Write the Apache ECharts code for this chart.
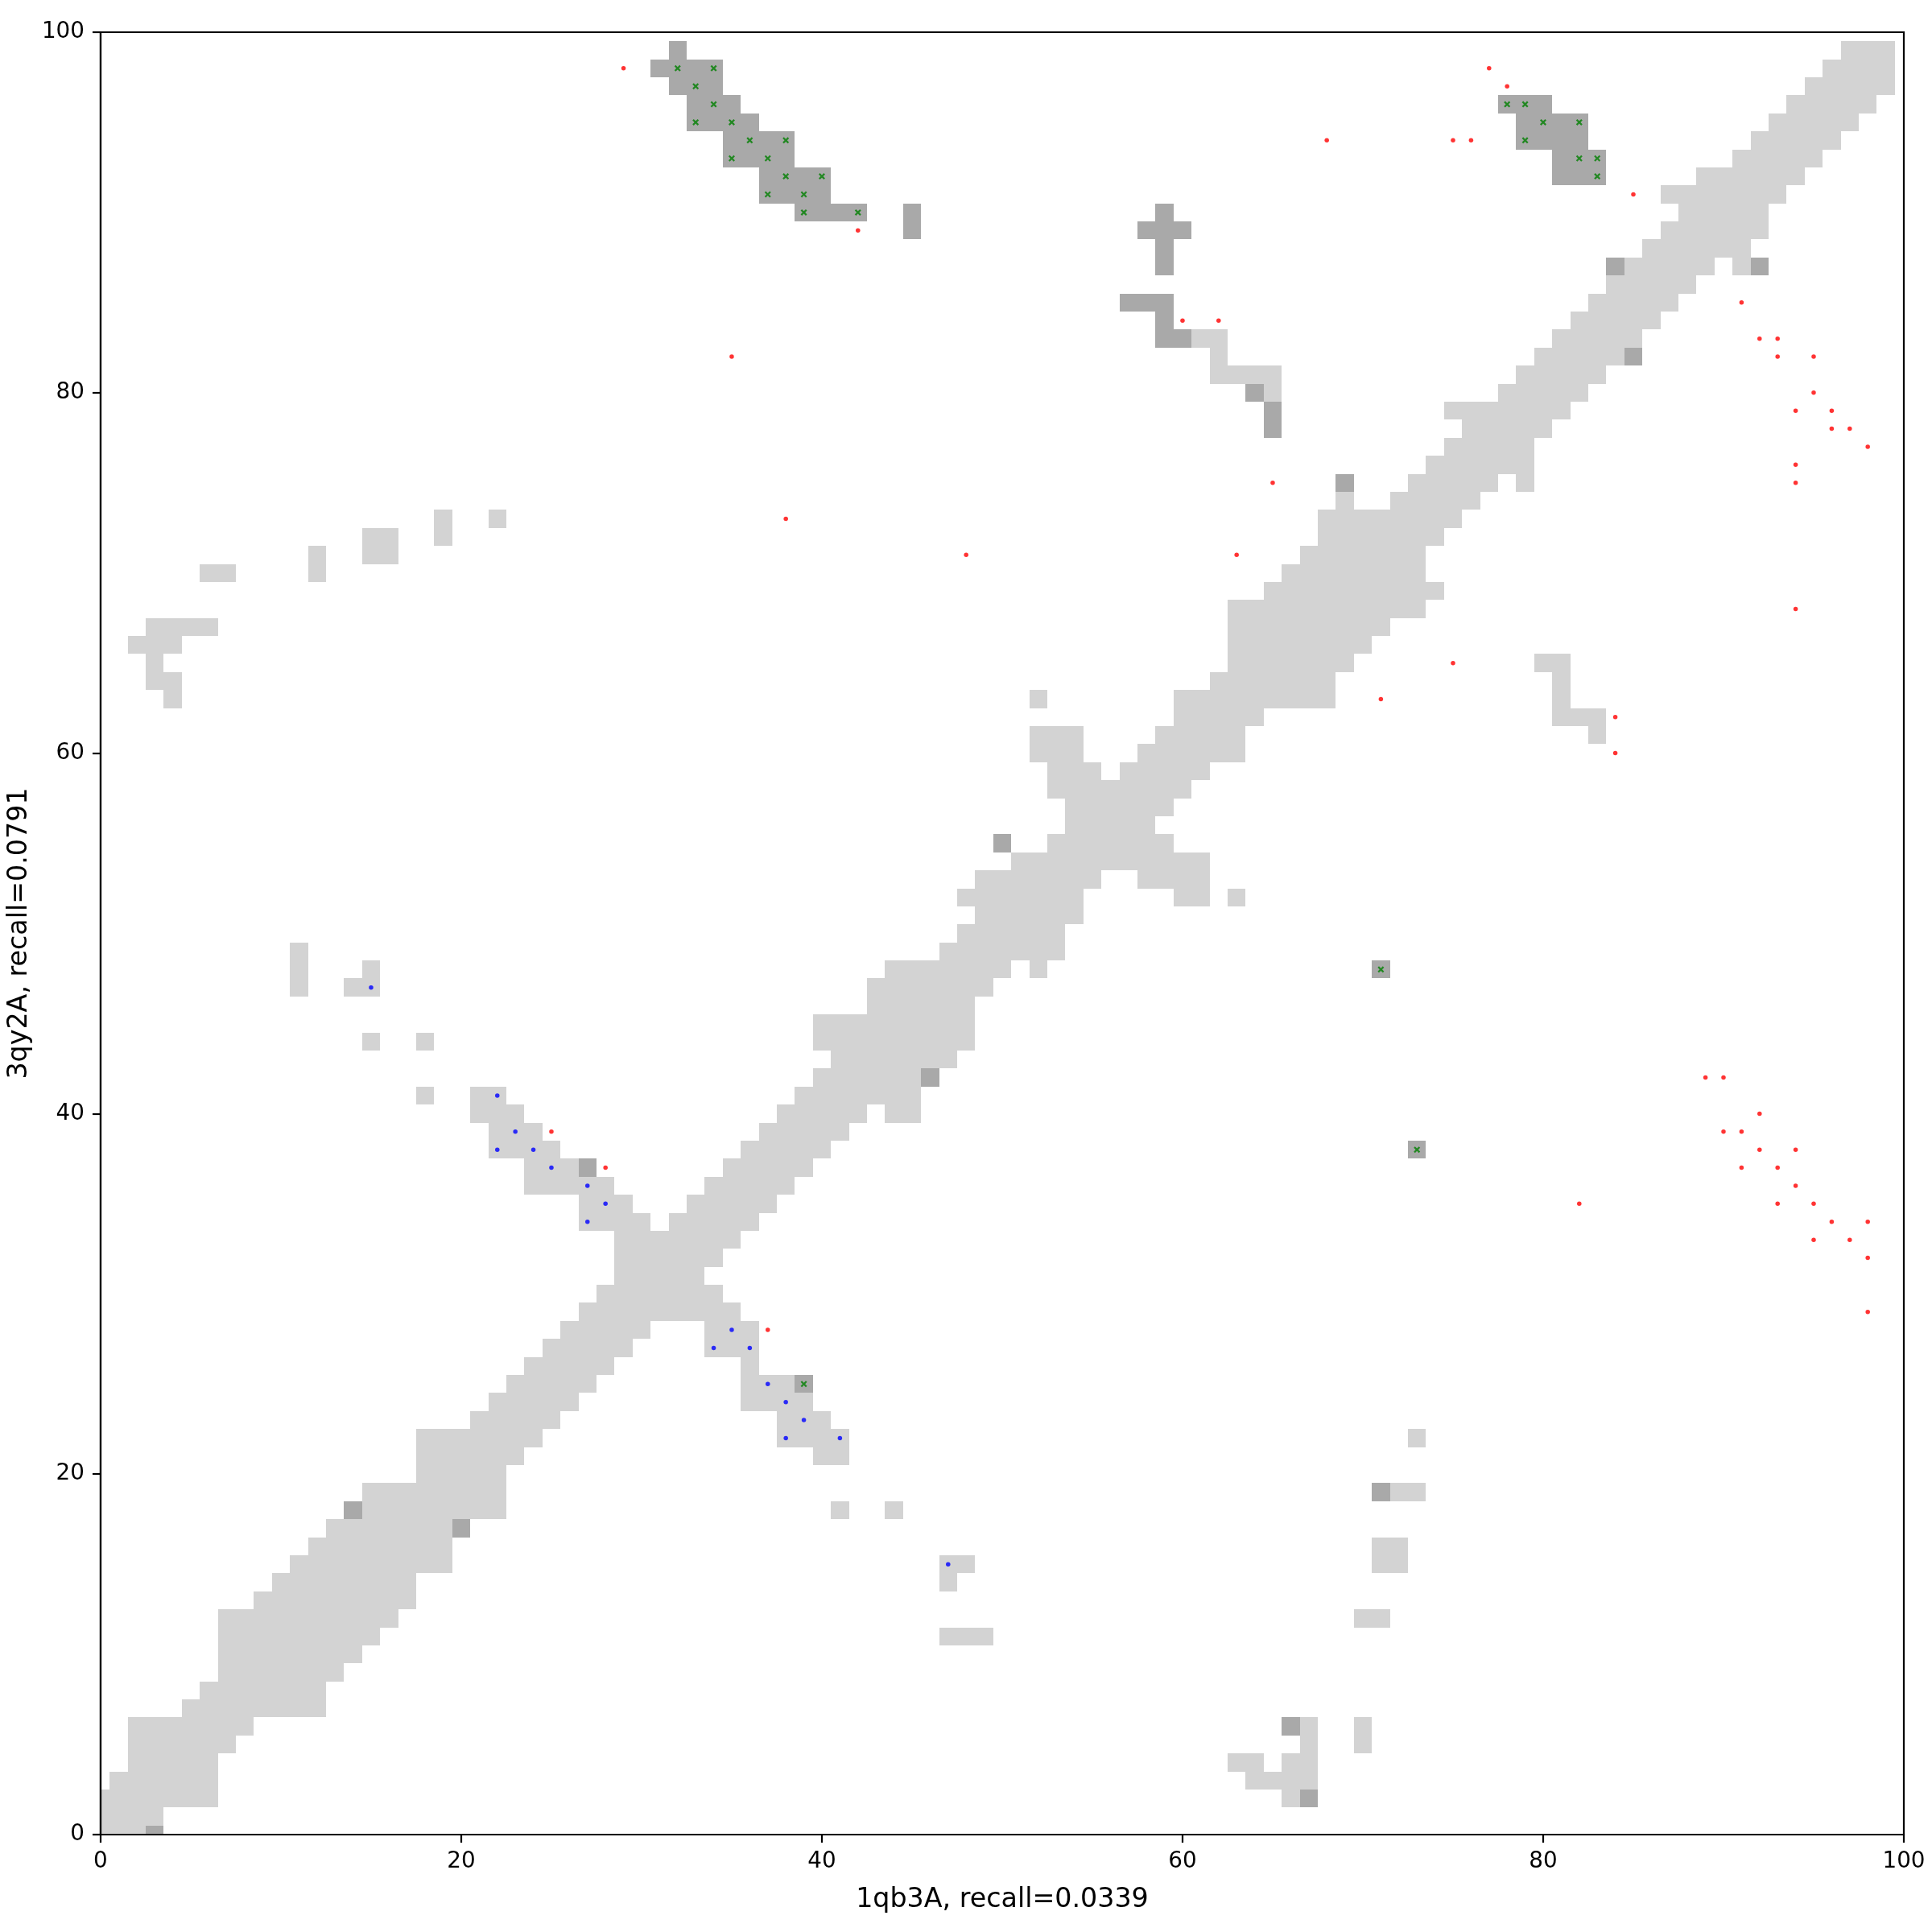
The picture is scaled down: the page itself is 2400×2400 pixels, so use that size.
<!DOCTYPE html>
<html>
<head>
<meta charset="utf-8">
<script src="https://cdn.jsdelivr.net/npm/echarts@6/dist/echarts.min.js"></script>
<style>
  html, body { margin: 0; padding: 0; background: #fff; }
  #chart { width: 2400px; height: 2400px; }
</style>
</head>
<body>
<div id="chart"></div>
<script>
// contact map cells, one run per row: [row, firstCol, lastCol]
const lightRuns = [
  [0, 0, 2], [1, 0, 3],
  [2, 0, 6], [2, 66, 66],
  [3, 1, 6], [3, 64, 67],
  [4, 2, 6], [4, 63, 64], [4, 66, 67],
  [5, 2, 7], [5, 67, 67], [5, 70, 70],
  [6, 2, 8], [6, 67, 67], [6, 70, 70],
  [7, 5, 12], [8, 6, 12], [9, 7, 13], [10, 7, 14],
  [11, 7, 15], [11, 47, 49],
  [12, 7, 16], [12, 70, 71],
  [13, 9, 17],
  [14, 10, 17], [14, 47, 47],
  [15, 11, 19], [15, 47, 48], [15, 71, 72],
  [16, 12, 19], [16, 71, 72],
  [17, 13, 19],
  [18, 15, 22], [18, 41, 41], [18, 44, 44],
  [19, 15, 22], [19, 72, 73],
  [20, 18, 22],
  [21, 18, 23], [21, 40, 41],
  [22, 18, 24], [22, 38, 41], [22, 73, 73],
  [23, 21, 25], [23, 38, 40],
  [24, 22, 26], [24, 36, 39],
  [25, 23, 27], [25, 36, 38],
  [26, 24, 28], [26, 36, 36],
  [27, 25, 29], [27, 34, 36],
  [28, 26, 30], [28, 34, 36],
  [29, 27, 35], [30, 28, 34], [31, 29, 33], [32, 29, 34], [33, 29, 35],
  [34, 27, 30], [34, 32, 36],
  [35, 27, 29], [35, 33, 37],
  [36, 24, 28], [36, 34, 38],
  [37, 24, 26], [37, 35, 39],
  [38, 22, 25], [38, 36, 40],
  [39, 22, 24], [39, 37, 41],
  [40, 21, 23], [40, 38, 42], [40, 44, 45],
  [41, 18, 18], [41, 21, 22], [41, 39, 45],
  [42, 40, 45],
  [43, 41, 47],
  [44, 15, 15], [44, 18, 18], [44, 40, 48],
  [45, 40, 48],
  [46, 43, 48],
  [47, 11, 11], [47, 14, 15], [47, 43, 49],
  [48, 11, 11], [48, 15, 15], [48, 44, 50], [48, 52, 52],
  [49, 11, 11], [49, 47, 53],
  [50, 48, 53],
  [51, 49, 54],
  [52, 48, 54], [52, 60, 61], [52, 63, 63],
  [53, 49, 55], [53, 58, 61],
  [54, 51, 61],
  [55, 53, 59],
  [56, 54, 58],
  [57, 54, 59],
  [58, 53, 60],
  [59, 53, 55], [59, 57, 61],
  [60, 52, 54], [60, 58, 63],
  [61, 52, 54], [61, 59, 63], [61, 83, 83],
  [62, 60, 64], [62, 81, 83],
  [63, 4, 4], [63, 52, 52], [63, 60, 68], [63, 81, 81],
  [64, 3, 4], [64, 62, 68], [64, 81, 81],
  [65, 3, 3], [65, 63, 69], [65, 80, 81],
  [66, 2, 4], [66, 63, 70],
  [67, 3, 6], [67, 63, 71],
  [68, 63, 73],
  [69, 65, 74],
  [70, 6, 7], [70, 12, 12], [70, 66, 73],
  [71, 12, 12], [71, 15, 16], [71, 67, 73],
  [72, 15, 16], [72, 19, 19], [72, 68, 74],
  [73, 19, 19], [73, 22, 22], [73, 68, 75],
  [74, 69, 69], [74, 72, 76],
  [75, 73, 77], [75, 79, 79],
  [76, 74, 79],
  [77, 75, 79],
  [78, 76, 80],
  [79, 75, 81],
  [80, 65, 65], [80, 78, 82],
  [81, 62, 65], [81, 79, 83],
  [82, 62, 62], [82, 80, 84],
  [83, 61, 62], [83, 81, 85],
  [84, 82, 86],
  [85, 83, 87],
  [86, 84, 88],
  [87, 85, 89], [87, 91, 91],
  [88, 86, 91],
  [89, 87, 92],
  [90, 88, 92],
  [91, 87, 93],
  [92, 89, 94],
  [93, 91, 95],
  [94, 92, 96],
  [95, 93, 97],
  [96, 94, 98],
  [97, 95, 99],
  [98, 96, 99],
  [99, 97, 99]
];

const darkRuns = [
  [0, 3, 3], [2, 67, 67], [6, 66, 66], [17, 20, 20], [18, 14, 14], [19, 71, 71],
  [25, 39, 39], [37, 27, 27], [38, 73, 73], [42, 46, 46], [48, 71, 71], [55, 50, 50],
  [75, 69, 69], [78, 65, 65], [79, 65, 65], [80, 64, 64], [82, 85, 85],
  [83, 59, 60], [84, 59, 59], [85, 57, 59],
  [87, 59, 59], [87, 84, 84], [87, 92, 92], [88, 59, 59],
  [89, 45, 45], [89, 58, 60], [90, 39, 42], [90, 45, 45], [90, 59, 59],
  [91, 37, 40], [92, 37, 40], [92, 81, 83], [93, 35, 38], [93, 81, 83],
  [94, 35, 38], [94, 79, 82], [95, 33, 36], [95, 79, 82],
  [96, 33, 35], [96, 78, 80], [97, 32, 34], [98, 31, 34], [99, 32, 32]
];

// predicted contacts [x, y]
const redPoints = [
  [77, 98], [78, 97], [68, 94], [75, 94], [76, 94], [85, 91], [91, 85], [92, 83], [93, 83],
  [93, 82], [95, 82], [95, 80], [94, 79], [96, 79], [96, 78], [97, 78], [98, 77], [94, 76],
  [94, 75], [94, 68], [29, 98], [42, 89], [60, 84], [62, 84], [35, 82], [38, 73], [48, 71],
  [65, 75], [63, 71], [25, 39], [28, 37], [37, 28], [75, 65], [71, 63], [84, 62], [84, 60],
  [89, 42], [90, 42], [92, 40], [90, 39], [91, 39], [92, 38], [94, 38], [91, 37], [93, 37],
  [94, 36], [82, 35], [93, 35], [95, 35], [96, 34], [98, 34], [95, 33], [97, 33], [98, 32],
  [98, 29]
];
const bluePoints = [
  [22, 41], [23, 39], [22, 38], [24, 38], [25, 37], [27, 36], [28, 35], [27, 34], [15, 47],
  [35, 28], [34, 27], [36, 27], [37, 25], [38, 24], [39, 23], [38, 22], [41, 22], [47, 15]
];
const greenPoints = [
  [32, 98], [34, 98], [33, 97], [34, 96], [33, 95], [35, 95], [36, 94], [38, 94], [35, 93],
  [37, 93], [38, 92], [40, 92], [37, 91], [39, 91], [39, 90], [42, 90],
  [78, 96], [79, 96], [80, 95], [82, 95], [79, 94], [82, 93], [83, 93], [83, 92],
  [71, 48], [73, 38], [39, 25]
];

const xTitle = '1qb3A, recall=0.0339';
const yTitle = '3qy2A, recall=0.0791';

function runsToCells(runs) {
  const cells = [];
  runs.forEach(function (r) {
    for (let x = r[1]; x <= r[2]; x++) cells.push([x, r[0]]);
  });
  return cells;
}

function cellRenderer(fill) {
  return function (params, api) {
    const x = api.value(0), y = api.value(1);
    const a = api.coord([x - 0.5, y + 0.5]);
    const b = api.coord([x + 0.5, y - 0.5]);
    const x0 = Math.round(a[0]), y0 = Math.round(a[1]);
    const cs = params.coordSys;
    const shape = echarts.graphic.clipRectByRect(
      { x: x0, y: y0, width: Math.round(b[0]) - x0, height: Math.round(b[1]) - y0 },
      { x: cs.x, y: cs.y, width: cs.width, height: cs.height }
    );
    return shape && { type: 'rect', shape: shape, style: { fill: fill } };
  };
}

const font = 'DejaVu Sans';
const tickSize = 27.8;
const titleSize = 33.3;

function axisBase(name, gap) {
  return {
    type: 'value',
    min: 0,
    max: 100,
    interval: 20,
    name: name,
    nameLocation: 'middle',
    nameGap: gap,
    nameTextStyle: { fontFamily: font, fontSize: titleSize, color: '#000' },
    axisLine: { show: true, onZero: false, lineStyle: { color: '#000', width: 2.2 } },
    axisTick: { show: true, inside: false, length: 10, lineStyle: { color: '#000', width: 2.2 } },
    axisLabel: { fontFamily: font, fontSize: tickSize, color: '#000', margin: 20 },
    splitLine: { show: false },
    z: 10
  };
}

const chart = echarts.init(document.getElementById('chart'));
const xAxis = axisBase(xTitle, 65);
const yAxis = axisBase(yTitle, 80);
yAxis.nameRotate = 90;

chart.setOption({
  animation: false,
  backgroundColor: '#fff',
  grid: {
    left: 124, right: 35, top: 40, bottom: 121,
    show: true, borderColor: '#000', borderWidth: 2.2,
    backgroundColor: 'transparent', z: 10
  },
  xAxis: xAxis,
  yAxis: yAxis,
  series: [
    {
      type: 'custom',
      name: 'light',
      renderItem: cellRenderer('#d3d3d3'),
      data: runsToCells(lightRuns),
      encode: { x: 0, y: 1 },
      z: 1
    },
    {
      type: 'custom',
      name: 'dark',
      renderItem: cellRenderer('#a9a9a9'),
      data: runsToCells(darkRuns),
      encode: { x: 0, y: 1 },
      z: 2
    },
    {
      type: 'scatter',
      data: redPoints,
      symbol: 'circle',
      symbolSize: 5.5,
      itemStyle: { color: '#ff0000' },
      z: 3
    },
    {
      type: 'scatter',
      data: bluePoints,
      symbol: 'circle',
      symbolSize: 5.5,
      itemStyle: { color: '#0000ff' },
      z: 3
    },
    {
      type: 'scatter',
      data: greenPoints,
      symbol: 'path://M0,2 L2,0 L5,3 L8,0 L10,2 L7,5 L10,8 L8,10 L5,7 L2,10 L0,8 L3,5 Z',
      symbolSize: 8,
      itemStyle: { color: '#008000' },
      z: 4
    }
  ]
});
</script>
</body>
</html>
